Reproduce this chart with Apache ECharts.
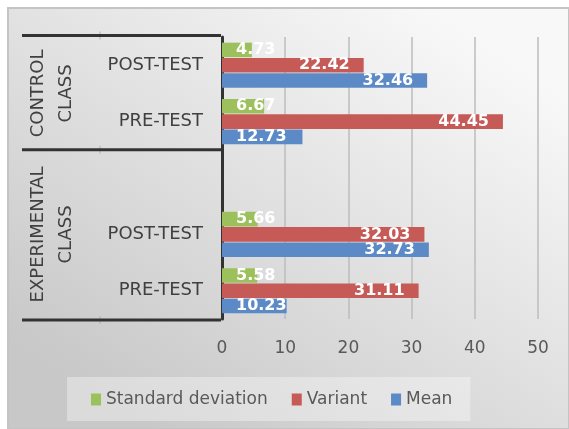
<!DOCTYPE html>
<html>
<head>
<meta charset="utf-8">
<script src="https://cdn.jsdelivr.net/npm/echarts@6/dist/echarts.min.js"></script>
<style>
  html, body { margin: 0; padding: 0; background: #fff; }
  #main { width: 569px; height: 429px; }
</style>
</head>
<body>
<div id="main"></div>
<script>
// categories listed top to bottom (axis is inverted); '' is the empty spacer row
var categories = ['POST-TEST', 'PRE-TEST', '', 'POST-TEST', 'PRE-TEST'];
var groups = [
  { name: 'CONTROL\nCLASS', from: 0, to: 1 },
  { name: 'EXPERIMENTAL\nCLASS', from: 2, to: 4 }
];
var seriesNames = ['Standard deviation', 'Variant', 'Mean'];
var sdValues = [4.73, 6.67, null, 5.66, 5.58];
var variantValues = [22.42, 44.45, null, 32.03, 31.11];
var meanValues = [32.46, 12.73, null, 32.73, 10.23];
var xTicks = { min: 0, max: 50, interval: 10 };

var colors = ['#9cc15c', '#c65a57', '#5b8ac6'];
var font = 'DejaVu Sans';

var myChart = echarts.init(document.getElementById('main'));

function barData(values) {
  return values.map(function (v) {
    // short bars: label starts from the bar base like Excel does
    return { value: v, label: { position: v !== null && v < 13 ? 'insideLeft' : 'insideRight' } };
  });
}

var allValues = [sdValues, variantValues, meanValues];

myChart.setOption({
  backgroundColor: '#ffffff',
  animation: false,
  color: colors,
  legend: {
    data: seriesNames,
    left: 67,
    top: 377,
    padding: [14, 18, 13, 24],
    backgroundColor: 'rgba(255,255,255,0.35)',
    itemWidth: 10,
    itemHeight: 12,
    itemGap: 24,
    icon: 'rect',
    textStyle: { fontFamily: font, fontSize: 17, color: '#595959' }
  },
  grid: { left: 222, right: 31, top: 37, bottom: 110, containLabel: false },
  xAxis: {
    type: 'value',
    min: xTicks.min,
    max: xTicks.max,
    interval: xTicks.interval,
    axisLine: { show: false },
    axisTick: { show: false },
    axisLabel: { fontFamily: font, fontSize: 17, color: '#595959', margin: 21 },
    splitLine: { lineStyle: { color: '#bcbcbc', width: 1.5 } }
  },
  yAxis: {
    type: 'category',
    inverse: true,
    data: categories,
    axisLine: { lineStyle: { color: '#333333', width: 3 } },
    axisTick: { show: false },
    axisLabel: { fontFamily: font, fontSize: 18, color: '#404040', margin: 19 }
  },
  series: seriesNames.map(function (name, i) {
    return {
      name: name,
      type: 'bar',
      barGap: '5%',
      barCategoryGap: '20%',
      data: barData(allValues[i]),
      label: {
        show: true,
        distance: 14,
        color: '#ffffff',
        fontFamily: font,
        fontWeight: 'bold',
        fontSize: 16,
        formatter: function (p) { return p.value === null ? '' : p.value.toFixed(2); }
      }
    };
  })
});

// multi-level category axis: group labels and separator lines
var half = (myChart.convertToPixel({ yAxisIndex: 0 }, 1) - myChart.convertToPixel({ yAxisIndex: 0 }, 0)) / 2;
var axisX = 221;
var boxLeft = 22;
var elements = [
  {
    type: 'rect', z: -100, silent: true,
    shape: { x: 8, y: 8, width: 561, height: 421 },
    style: {
      fill: new echarts.graphic.LinearGradient(0.75, 0, 0.25, 1, [
        { offset: 0, color: '#f8f8f8' },
        { offset: 1, color: '#c8c8c8' }
      ]),
      stroke: '#c4c4c4', lineWidth: 2
    }
  }
];
var lineYs = [];
groups.forEach(function (g, gi) {
  var top = myChart.convertToPixel({ yAxisIndex: 0 }, g.from) - half;
  var bottom = myChart.convertToPixel({ yAxisIndex: 0 }, g.to) + half;
  if (gi === 0) lineYs.push(top - 1.5);
  lineYs.push(bottom + (gi === groups.length - 1 ? 1 : 0));
  elements.push({
    type: 'text', silent: true,
    x: 52, y: (top + bottom) / 2,
    rotation: Math.PI / 2,
    style: {
      text: g.name,
      fontFamily: font, fontSize: 18, fill: '#404040',
      align: 'center', verticalAlign: 'middle', lineHeight: 28
    }
  });
});
lineYs.forEach(function (y) {
  elements.push({
    type: 'line', silent: true, z: 10,
    shape: { x1: boxLeft, y1: y, x2: axisX, y2: y },
    style: { stroke: '#333333', lineWidth: 3 }
  });
  elements.push({
    type: 'line', silent: true, z: 9,
    shape: { x1: 100, y1: y - 4, x2: 100, y2: y + 4 },
    style: { stroke: '#b0b0b0', lineWidth: 1 }
  });
});
myChart.setOption({ graphic: { elements: elements } });
</script>
</body>
</html>
